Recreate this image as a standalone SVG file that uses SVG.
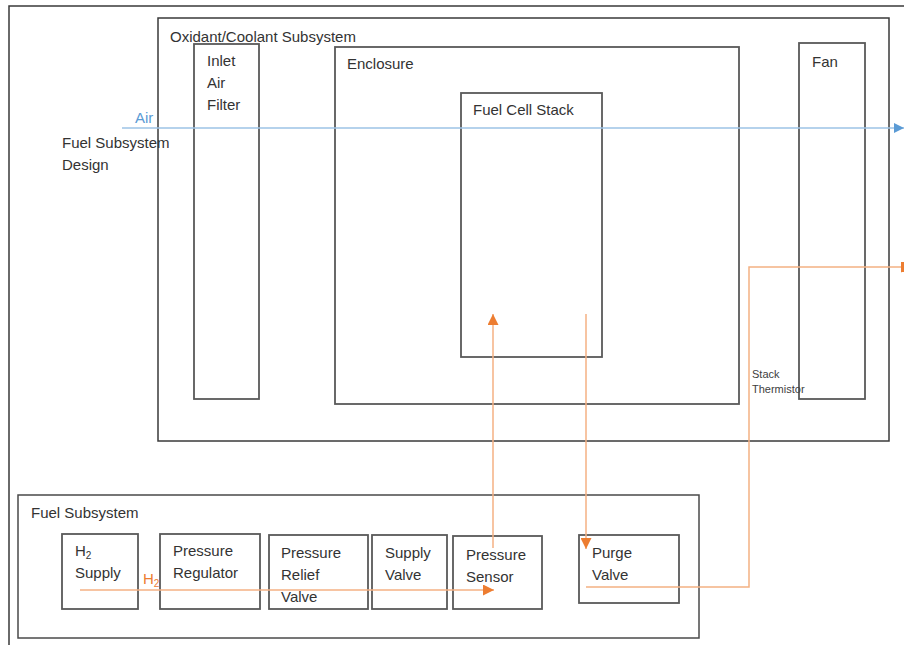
<svg xmlns="http://www.w3.org/2000/svg" width="904" height="645" viewBox="0 0 904 645">
<style>
.frame{fill:none;stroke:#3a3a3a;stroke-width:1.5}
.box{fill:#fff;stroke:#595959;stroke-width:1.8}
.t{font-family:"Liberation Sans",Arial,sans-serif;font-size:15px;fill:#333}
.small{font-family:"Liberation Sans",Arial,sans-serif;font-size:11px;fill:#404040}
.air{fill:none;stroke:#9dc3e6;stroke-width:1.3}
.h2{fill:none;stroke:#f4b183;stroke-width:1.5}
</style>
<defs>
<marker id="ab" viewBox="0 0 10 10" refX="10" refY="5" markerWidth="10" markerHeight="10" markerUnits="userSpaceOnUse" orient="auto"><path d="M0,0L10,5L0,10z" fill="#5b9bd5"/></marker>
<marker id="ao" viewBox="0 0 10 10" refX="10" refY="5" markerWidth="11" markerHeight="11" markerUnits="userSpaceOnUse" orient="auto"><path d="M0,0L10,5L0,10z" fill="#ed7d31"/></marker>
</defs>
<rect x="0" y="0" width="904" height="645" fill="#fff"/>
<rect class="frame" x="9" y="6" width="1000" height="1000"/>
<g id="oxidant">
<rect class="box" x="158" y="18" width="731" height="423" style="stroke:#3a3a3a;stroke-width:1.5"/>
<text class="t" x="170" y="42">Oxidant/Coolant Subsystem</text>
</g>
<g id="inlet-air-filter">
<rect class="box" x="194" y="44" width="65" height="355"/>
<text class="t" x="207" y="66">Inlet</text>
<text class="t" x="207" y="88">Air</text>
<text class="t" x="207" y="110">Filter</text>
</g>
<g id="enclosure">
<rect class="box" x="335" y="47" width="404" height="357"/>
<text class="t" x="347" y="69">Enclosure</text>
</g>
<g id="fuel-cell-stack">
<rect class="box" x="461" y="93" width="141" height="264"/>
<text class="t" x="473" y="115">Fuel Cell Stack</text>
</g>
<g id="fan">
<rect class="box" x="799" y="43" width="66" height="356"/>
<text class="t" x="812" y="67">Fan</text>
</g>
<g id="fuel-subsystem">
<rect class="box" x="18" y="495" width="681" height="143" style="stroke:#4a4a4a;stroke-width:1.5"/>
<text class="t" x="31" y="518">Fuel Subsystem</text>
</g>
<g id="h2-supply">
<rect class="box" x="62" y="534" width="76" height="75"/>
<text class="t" x="75" y="556">H<tspan font-size="10" dy="3">2</tspan></text>
<text class="t" x="75" y="578">Supply</text>
</g>
<g id="pressure-regulator">
<rect class="box" x="160" y="534" width="100" height="75"/>
<text class="t" x="173" y="556">Pressure</text>
<text class="t" x="173" y="578">Regulator</text>
</g>
<g id="pressure-relief-valve">
<rect class="box" x="269" y="535" width="99" height="74"/>
<text class="t" x="281" y="558">Pressure</text>
<text class="t" x="281" y="580">Relief</text>
<text class="t" x="281" y="602">Valve</text>
</g>
<g id="supply-valve">
<rect class="box" x="372" y="535" width="75" height="74"/>
<text class="t" x="385" y="558">Supply</text>
<text class="t" x="385" y="580">Valve</text>
</g>
<g id="pressure-sensor">
<rect class="box" x="453" y="536" width="89" height="73"/>
<text class="t" x="466" y="560">Pressure</text>
<text class="t" x="466" y="582">Sensor</text>
</g>
<g id="purge-valve">
<rect class="box" x="579" y="535" width="100" height="68"/>
<text class="t" x="592" y="558">Purge</text>
<text class="t" x="592" y="580">Valve</text>
</g>
<g id="labels">
<text class="t" x="62" y="148">Fuel Subsystem</text>
<text class="t" x="62" y="170">Design</text>
<text class="small" x="752" y="378">Stack</text>
<text class="small" x="752" y="393">Thermistor</text>
</g>
<g id="connectors">
<line class="air" x1="122" y1="128" x2="904" y2="128" marker-end="url(#ab)"/>
<text class="t" x="135" y="123" style="fill:#5b9bd5">Air</text>
<line class="h2" x1="80" y1="590" x2="494" y2="590" marker-end="url(#ao)"/>
<text class="t" x="143" y="584" style="fill:#ed7d31">H<tspan font-size="10" dy="3">2</tspan></text>
<line class="h2" x1="493" y1="548" x2="493" y2="314" marker-end="url(#ao)"/>
<line class="h2" x1="586" y1="314" x2="586" y2="549" marker-end="url(#ao)"/>
<polyline class="h2" points="586,587 749,587 749,267 912,267" marker-end="url(#ao)"/>
<rect x="902" y="262" width="3" height="10" fill="#ed7d31"/>
</g>
</svg>
